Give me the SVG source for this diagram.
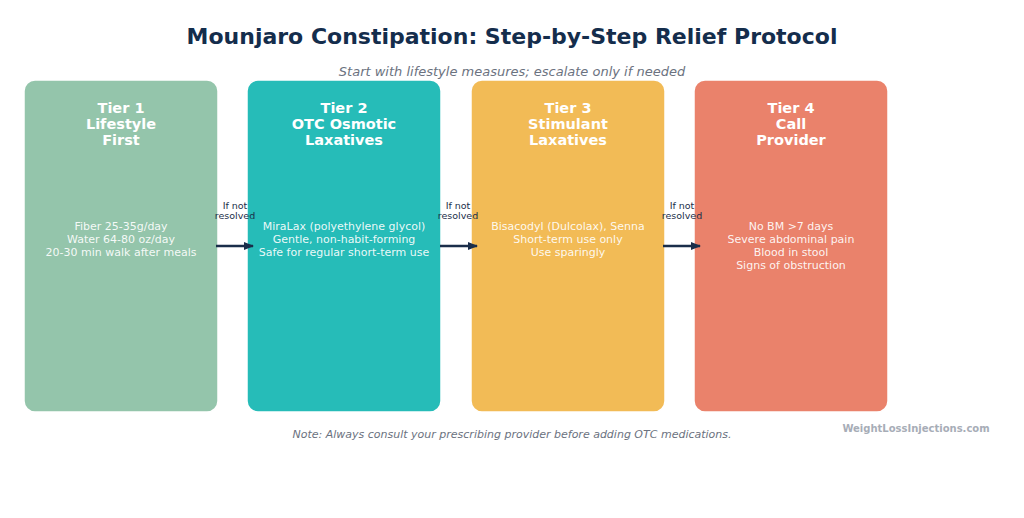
<svg xmlns="http://www.w3.org/2000/svg" width="1024" height="518" viewBox="0 0 1024 518">
<defs>
<marker id="ah" viewBox="0 0 10 10" refX="9" refY="5" markerWidth="10" markerHeight="10" markerUnits="userSpaceOnUse" orient="auto">
<path d="M0,1 L10,5 L0,9 Z" fill="#1a2e4a"/>
</marker>
<style>
text{font-family:"DejaVu Sans","Liberation Sans",sans-serif;text-anchor:middle}
.box{stroke:#ffffff;stroke-width:1.5}
.hd{font-size:14.5px;font-weight:bold;fill:#ffffff}
.bd{font-size:11px;fill:#ffffff;fill-opacity:0.92}
.lbl{font-size:9.5px;fill:#1a2e4a}
.conn{stroke:#1a2e4a;stroke-width:2.5;fill:none;marker-end:url(#ah)}
</style>
</defs>
<rect width="1024" height="518" fill="#ffffff"/>
<text x="512" y="44" style="font-size:22px;font-weight:bold;fill:#142d4c">Mounjaro Constipation: Step-by-Step Relief Protocol</text>
<text x="512" y="76" style="font-size:13px;font-style:italic;fill:#6b7280">Start with lifestyle measures; escalate only if needed</text>
<g id="tier1">
<rect class="box" x="24" y="80" width="194" height="332" rx="11" fill="#94c5ab"/>
<text class="hd" x="121" y="113">Tier 1</text>
<text class="hd" x="121" y="129">Lifestyle</text>
<text class="hd" x="121" y="145">First</text>
<text class="bd" x="121" y="230">Fiber 25-35g/day</text>
<text class="bd" x="121" y="243">Water 64-80 oz/day</text>
<text class="bd" x="121" y="256">20-30 min walk after meals</text>
</g>
<g id="tier2">
<rect class="box" x="247" y="80" width="194" height="332" rx="11" fill="#26bcb8"/>
<text class="hd" x="344" y="113">Tier 2</text>
<text class="hd" x="344" y="129">OTC Osmotic</text>
<text class="hd" x="344" y="145">Laxatives</text>
<text class="bd" x="344" y="230">MiraLax (polyethylene glycol)</text>
<text class="bd" x="344" y="243">Gentle, non-habit-forming</text>
<text class="bd" x="344" y="256">Safe for regular short-term use</text>
</g>
<g id="tier3">
<rect class="box" x="471" y="80" width="194" height="332" rx="11" fill="#f2bb56"/>
<text class="hd" x="568" y="113">Tier 3</text>
<text class="hd" x="568" y="129">Stimulant</text>
<text class="hd" x="568" y="145">Laxatives</text>
<text class="bd" x="568" y="230">Bisacodyl (Dulcolax), Senna</text>
<text class="bd" x="568" y="243">Short-term use only</text>
<text class="bd" x="568" y="256">Use sparingly</text>
</g>
<g id="tier4">
<rect class="box" x="694" y="80" width="194" height="332" rx="11" fill="#ea826b"/>
<text class="hd" x="791" y="113">Tier 4</text>
<text class="hd" x="791" y="129">Call</text>
<text class="hd" x="791" y="145">Provider</text>
<text class="bd" x="791" y="230">No BM &gt;7 days</text>
<text class="bd" x="791" y="243">Severe abdominal pain</text>
<text class="bd" x="791" y="256">Blood in stool</text>
<text class="bd" x="791" y="269">Signs of obstruction</text>
</g>
<g id="connectors">
<line class="conn" x1="216" y1="246" x2="253" y2="246"/>
<line class="conn" x1="440" y1="246" x2="477" y2="246"/>
<line class="conn" x1="663" y1="246" x2="700" y2="246"/>
<text class="lbl" x="235" y="209">If not</text>
<text class="lbl" x="235" y="219">resolved</text>
<text class="lbl" x="458" y="209">If not</text>
<text class="lbl" x="458" y="219">resolved</text>
<text class="lbl" x="682" y="209">If not</text>
<text class="lbl" x="682" y="219">resolved</text>
</g>
<text x="512" y="438" style="font-size:11px;font-style:italic;fill:#6b7280">Note: Always consult your prescribing provider before adding OTC medications.</text>
<text x="916" y="432" style="font-size:10px;font-weight:bold;fill:#a7adb7">WeightLossInjections.com</text>
</svg>
